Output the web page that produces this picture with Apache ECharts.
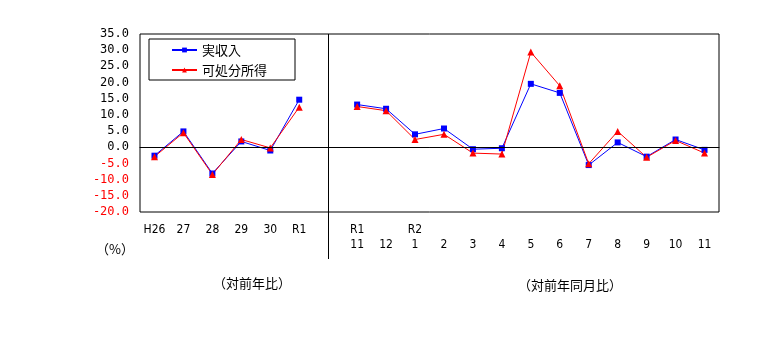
<!DOCTYPE html>
<html>
<head>
<meta charset="utf-8">
<script src="https://cdn.jsdelivr.net/npm/echarts@6/dist/echarts.min.js"></script>
<style>
  html, body { margin: 0; padding: 0; background: #fff; }
  #chart { width: 769px; height: 354px; }
</style>
</head>
<body>
<div id="chart"></div>
<script>
// 年次(対前年比) 6 本 + 区切り 1 + 月次(対前年同月比) 13 本
var categories = ['H26', '27', '28', '29', '30', 'R1', '',
  'R1\n11', '\n12', 'R2\n1', '\n2', '\n3', '\n4', '\n5', '\n6', '\n7', '\n8', '\n9', '\n10', '\n11'];

var jisshunyu = [-2.6, 4.9, -8.1, 1.8, -1.0, 14.7, null,
  13.2, 11.9, 4.0, 5.8, -0.6, -0.3, 19.6, 16.8, -5.5, 1.5, -2.9, 2.4, -0.8];

var kashobun = [-2.9, 4.5, -8.4, 2.4, -0.2, 12.4, null,
  12.6, 11.3, 2.4, 4.0, -1.8, -2.1, 29.4, 19.0, -5.1, 4.9, -3.1, 2.1, -1.8];

var yMin = -20, yMax = 35, yStep = 5;
var dividerIndex = 6;

var chart = echarts.init(document.getElementById('chart'));

var option = {
  animation: false,
  grid: {
    left: 140, right: 50, top: 34, bottom: 142,
    show: true, borderColor: '#000', borderWidth: 1
  },
  legend: {
    orient: 'vertical',
    left: 149, top: 39,
    padding: [4, 28, 3, 22],
    borderColor: '#000', borderWidth: 1,
    itemWidth: 25, itemHeight: 6, itemGap: 6,
    textStyle: { fontFamily: 'Noto Sans CJK JP', fontSize: 13, color: '#000', lineHeight: 14 },
    data: ['実収入', '可処分所得']
  },
  xAxis: {
    type: 'category',
    data: categories,
    boundaryGap: true,
    axisLine: { show: true, lineStyle: { color: '#000', width: 1 } },
    axisTick: { show: false },
    axisLabel: {
      interval: 0,
      margin: 10,
      color: '#000',
      fontFamily: "'DejaVu Sans Condensed', monospace",
      fontSize: 12,
      lineHeight: 15
    },
    splitLine: { show: false }
  },
  yAxis: {
    type: 'value',
    min: yMin, max: yMax, interval: yStep,
    axisLine: { show: false },
    axisTick: { show: false },
    splitLine: { show: false },
    axisLabel: {
      margin: 11,
      fontFamily: 'DejaVu Sans Mono',
      fontSize: 12,
      formatter: function (v) { return v.toFixed(1); },
      color: function (v) { return parseFloat(v) < 0 ? '#FF0000' : '#000'; }
    }
  },
  series: [
    {
      name: '実収入',
      type: 'line',
      data: jisshunyu,
      connectNulls: false,
      symbol: 'rect',
      symbolSize: 6,
      color: '#0000FF',
      lineStyle: { color: '#0000FF', width: 1 },
      itemStyle: { color: '#0000FF' },
      markLine: {
        silent: true,
        symbol: 'none',
        label: { show: false },
        lineStyle: { color: '#000', width: 1, type: 'solid' },
        data: [{ yAxis: 0 }, { xAxis: dividerIndex }]
      }
    },
    {
      name: '可処分所得',
      type: 'line',
      data: kashobun,
      connectNulls: false,
      symbol: 'triangle',
      symbolSize: 7,
      color: '#FF0000',
      lineStyle: { color: '#FF0000', width: 1 },
      itemStyle: { color: '#FF0000' }
    }
  ],
  graphic: [
    { type: 'text', left: 96, top: 243,
      style: { text: '（%）', fontFamily: 'Noto Sans CJK JP', fontSize: 13, fill: '#000' } },
    { type: 'text', left: 213, top: 277,
      style: { text: '（対前年比）', fontFamily: 'Noto Sans CJK JP', fontSize: 13, fill: '#000' } },
    { type: 'text', left: 518, top: 279,
      style: { text: '（対前年同月比）', fontFamily: 'Noto Sans CJK JP', fontSize: 13, fill: '#000' } }
  ]
};

chart.setOption(option);

// 年次と月次の区切り線を軸の下まで延ばす
var divX = chart.convertToPixel({ xAxisIndex: 0 }, dividerIndex);
var baseY = chart.convertToPixel({ yAxisIndex: 0 }, yMin);
chart.setOption({
  graphic: [
    { type: 'text', left: 96, top: 243,
      style: { text: '（%）', fontFamily: 'Noto Sans CJK JP', fontSize: 13, fill: '#000' } },
    { type: 'text', left: 213, top: 277,
      style: { text: '（対前年比）', fontFamily: 'Noto Sans CJK JP', fontSize: 13, fill: '#000' } },
    { type: 'text', left: 518, top: 279,
      style: { text: '（対前年同月比）', fontFamily: 'Noto Sans CJK JP', fontSize: 13, fill: '#000' } },
    { type: 'line', silent: true,
      shape: { x1: Math.round(divX) + 0.5, y1: baseY, x2: Math.round(divX) + 0.5, y2: baseY + 47 },
      style: { stroke: '#000', lineWidth: 1 } }
  ]
});
</script>
</body>
</html>
